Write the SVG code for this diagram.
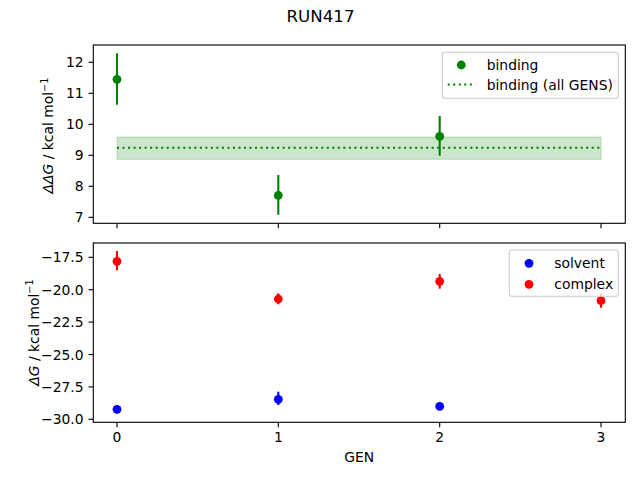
<svg xmlns="http://www.w3.org/2000/svg" width="640" height="480" viewBox="0 0 640 480">
<style>
text{font-family:"DejaVu Sans","Liberation Sans",sans-serif;fill:#000}
.tk{font-size:13.89px}
.yt{text-anchor:end}
.xt{text-anchor:middle}
.sp{fill:none;stroke:#000;stroke-width:1.11}
.tm{stroke:#000;stroke-width:1.11}
.g{fill:#008000}
.r{fill:#ff0000}
.b{fill:#0000ff}
.eg{stroke:#008000;stroke-width:2.08}
.er{stroke:#ff0000;stroke-width:2.08}
.eb{stroke:#0000ff;stroke-width:2.08}
.leg{fill:#fff;fill-opacity:0.8;stroke:#cccccc;stroke-width:1.11}
.dot{stroke:#008000;stroke-width:2.08;stroke-dasharray:2.08 3.44;fill:none}
</style>
<rect x="0" y="0" width="640" height="480" fill="#fff"/>
<text x="320.5" y="22.3" font-size="16.67" text-anchor="middle">RUN417</text>

<g id="top-axes">
  <rect x="93.3" y="45" width="532" height="178.3" fill="#fff"/>
  <g id="band">
    <rect x="117" y="137" width="484" height="22.3" fill="#008000" fill-opacity="0.2" stroke="#008000" stroke-opacity="0.2" stroke-width="1.11"/>
  </g>
  <g id="connectors">
    <line class="dot" x1="117" y1="147.7" x2="601" y2="147.7"/>
    <line class="eg" x1="117" y1="53.3" x2="117" y2="104.7"/>
    <line class="eg" x1="278.3" y1="175" x2="278.3" y2="214.7"/>
    <line class="eg" x1="439.7" y1="116" x2="439.7" y2="155.7"/>
  </g>
  <g id="binding-points">
    <circle class="g" cx="117" cy="79.3" r="4.4"/>
    <circle class="g" cx="278.3" cy="195.3" r="4.4"/>
    <circle class="g" cx="439.7" cy="136.3" r="4.4"/>
  </g>
  <rect class="sp" x="93.3" y="45" width="532" height="178.3"/>
  <g id="top-yticks">
    <line class="tm" x1="88.5" y1="62.3" x2="93.3" y2="62.3"/>
    <line class="tm" x1="88.5" y1="93.3" x2="93.3" y2="93.3"/>
    <line class="tm" x1="88.5" y1="124.3" x2="93.3" y2="124.3"/>
    <line class="tm" x1="88.5" y1="155.3" x2="93.3" y2="155.3"/>
    <line class="tm" x1="88.5" y1="186.3" x2="93.3" y2="186.3"/>
    <line class="tm" x1="88.5" y1="217.3" x2="93.3" y2="217.3"/>
    <text class="tk yt" x="83.6" y="67.4">12</text>
    <text class="tk yt" x="83.6" y="98.4">11</text>
    <text class="tk yt" x="83.6" y="129.4">10</text>
    <text class="tk yt" x="83.6" y="160.4">9</text>
    <text class="tk yt" x="83.6" y="191.4">8</text>
    <text class="tk yt" x="83.6" y="222.4">7</text>
  </g>
  <g id="top-xticks">
    <line class="tm" x1="117" y1="223.3" x2="117" y2="228.2"/>
    <line class="tm" x1="278.3" y1="223.3" x2="278.3" y2="228.2"/>
    <line class="tm" x1="439.7" y1="223.3" x2="439.7" y2="228.2"/>
    <line class="tm" x1="601" y1="223.3" x2="601" y2="228.2"/>
  </g>
  <text class="tk" x="53.3" y="135.5" text-anchor="middle" transform="rotate(-90 53.3 135.5)"><tspan font-style="italic">ΔΔG</tspan> / kcal mol<tspan font-size="9.7" dy="-5.5">−1</tspan></text>
  <g id="top-legend">
    <rect class="leg" x="442.3" y="52.3" width="176" height="46" rx="2.8"/>
    <circle class="g" cx="461.3" cy="65" r="4.4"/>
    <text class="tk" x="486.7" y="70">binding</text>
    <line class="dot" x1="447.7" y1="84.5" x2="475.5" y2="84.5"/>
    <text class="tk" x="486.7" y="89.5">binding (all GENS)</text>
  </g>
</g>

<g id="bottom-axes">
  <rect x="93.3" y="243" width="532" height="179.3" fill="#fff"/>
  <g id="errorbars">
    <line class="er" x1="117" y1="251" x2="117" y2="270.3"/>
    <line class="er" x1="278.3" y1="293.3" x2="278.3" y2="304.3"/>
    <line class="er" x1="439.7" y1="274" x2="439.7" y2="288.7"/>
    <line class="er" x1="601" y1="293.3" x2="601" y2="307.7"/>
    <line class="eb" x1="117" y1="406" x2="117" y2="412.5"/>
    <line class="eb" x1="278.3" y1="391.7" x2="278.3" y2="405"/>
    <line class="eb" x1="439.7" y1="403" x2="439.7" y2="409.6"/>
  </g>
  <g id="complex-points">
    <circle class="r" cx="117" cy="261.3" r="4.4"/>
    <circle class="r" cx="278.3" cy="299" r="4.4"/>
    <circle class="r" cx="439.7" cy="281.3" r="4.4"/>
    <circle class="r" cx="601" cy="300.7" r="4.4"/>
  </g>
  <g id="solvent-points">
    <circle class="b" cx="117" cy="409.3" r="4.4"/>
    <circle class="b" cx="278.3" cy="399.3" r="4.4"/>
    <circle class="b" cx="439.7" cy="406.3" r="4.4"/>
  </g>
  <rect class="sp" x="93.3" y="243" width="532" height="179.3"/>
  <g id="bottom-yticks">
    <line class="tm" x1="88.5" y1="257.3" x2="93.3" y2="257.3"/>
    <line class="tm" x1="88.5" y1="289.7" x2="93.3" y2="289.7"/>
    <line class="tm" x1="88.5" y1="322.1" x2="93.3" y2="322.1"/>
    <line class="tm" x1="88.5" y1="354.5" x2="93.3" y2="354.5"/>
    <line class="tm" x1="88.5" y1="386.9" x2="93.3" y2="386.9"/>
    <line class="tm" x1="88.5" y1="419.3" x2="93.3" y2="419.3"/>
    <text class="tk yt" x="83.6" y="262.4">−17.5</text>
    <text class="tk yt" x="83.6" y="294.8">−20.0</text>
    <text class="tk yt" x="83.6" y="327.2">−22.5</text>
    <text class="tk yt" x="83.6" y="359.6">−25.0</text>
    <text class="tk yt" x="83.6" y="392">−27.5</text>
    <text class="tk yt" x="83.6" y="424.4">−30.0</text>
  </g>
  <g id="bottom-xticks">
    <line class="tm" x1="117" y1="422.3" x2="117" y2="427.2"/>
    <line class="tm" x1="278.3" y1="422.3" x2="278.3" y2="427.2"/>
    <line class="tm" x1="439.7" y1="422.3" x2="439.7" y2="427.2"/>
    <line class="tm" x1="601" y1="422.3" x2="601" y2="427.2"/>
    <text class="tk xt" x="117" y="441.7">0</text>
    <text class="tk xt" x="278.3" y="441.7">1</text>
    <text class="tk xt" x="439.7" y="441.7">2</text>
    <text class="tk xt" x="601" y="441.7">3</text>
  </g>
  <text class="tk" x="359.3" y="462.3" text-anchor="middle">GEN</text>
  <text class="tk" x="38.6" y="332.5" text-anchor="middle" transform="rotate(-90 38.6 332.5)"><tspan font-style="italic">ΔG</tspan> / kcal mol<tspan font-size="9.7" dy="-5.5">−1</tspan></text>
  <g id="bottom-legend">
    <rect class="leg" x="509.3" y="250" width="109" height="46.3" rx="2.8"/>
    <circle class="b" cx="529" cy="263.3" r="4.4"/>
    <text class="tk" x="554.3" y="268.3">solvent</text>
    <circle class="r" cx="529" cy="284.3" r="4.4"/>
    <text class="tk" x="554.3" y="289.3">complex</text>
  </g>
</g>
</svg>
